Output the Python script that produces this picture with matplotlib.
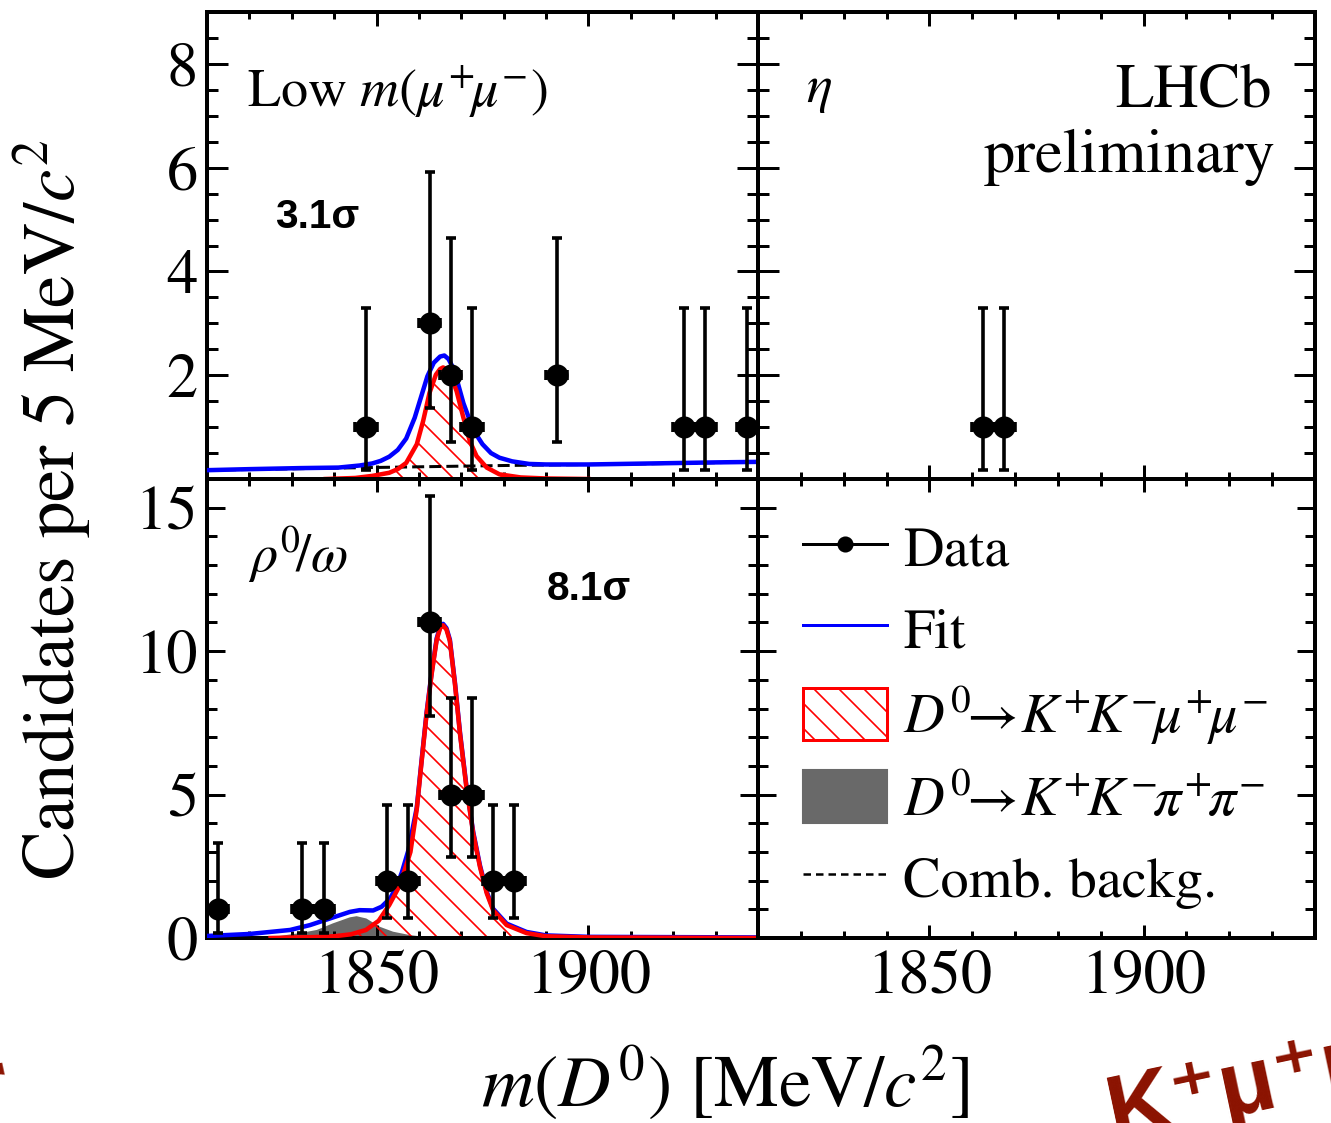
import numpy as np
import matplotlib
matplotlib.use("Agg")
from matplotlib import pyplot as plt
from matplotlib.lines import Line2D
from matplotlib.patches import Patch

plt.rcParams['font.family'] = ['STIXGeneral', 'DejaVu Serif']
plt.rcParams['mathtext.fontset'] = 'stix'
plt.rcParams['hatch.linewidth'] = 0.8

DPI = 150
px = 72.0 / DPI   # punkti na piksel
W, H = 1331.0, 1123.0

# --- podatki (odčitani s slike) ---
# zgoraj levo: low m(mu mu)
tl_x = [1847.5, 1862.5, 1867.5, 1872.5, 1892.5, 1922.5, 1927.5, 1937.5]
tl_y = [1, 3, 2, 1, 2, 1, 1, 1]
tl_lo = [0.17, 1.37, 0.71, 0.17, 0.71, 0.17, 0.17, 0.17]
tl_hi = [3.30, 5.92, 4.64, 3.30, 4.64, 3.30, 3.30, 3.30]

# zgoraj desno: eta
tr_x = [1862.5, 1867.5]
tr_y = [1, 1]
tr_lo = [0.17, 0.17]
tr_hi = [3.30, 3.30]

# spodaj levo: rho/omega
bl_x = [1812.5, 1832.5, 1837.5, 1852.5, 1857.5, 1862.5, 1867.5, 1872.5, 1877.5, 1882.5]
bl_y = [1, 1, 1, 2, 2, 11, 5, 5, 2, 2]
bl_lo = [0.17, 0.17, 0.17, 0.71, 0.71, 7.74, 2.84, 2.84, 0.71, 0.71]
bl_hi = [3.30, 3.30, 3.30, 4.64, 4.64, 15.40, 8.38, 8.38, 4.64, 4.64]

# fit krivulje zgoraj levo
tl_fit_m = [1810, 1820, 1832, 1841, 1846, 1849, 1851, 1853, 1855, 1857, 1859, 1860.5, 1862,
            1863.5, 1865, 1866, 1867, 1868, 1869, 1870.5, 1872, 1873.5, 1875, 1877, 1879,
            1882, 1886, 1890, 1900, 1915, 1930, 1940]
tl_fit_v = [0.17, 0.19, 0.21, 0.22, 0.26, 0.30, 0.35, 0.43, 0.56, 0.78, 1.18, 1.58, 1.98,
            2.24, 2.36, 2.38, 2.31, 2.15, 1.90, 1.46, 1.13, 0.86, 0.67, 0.50, 0.41,
            0.34, 0.29, 0.28, 0.28, 0.30, 0.32, 0.33]
tl_sig_m = [1838, 1845, 1849, 1853, 1855, 1857, 1859.5, 1861, 1862.5, 1864, 1865, 1865.7,
            1866.5, 1867.3, 1868.9, 1870.5, 1872, 1873.6, 1876, 1879, 1884, 1890, 1900]
tl_sig_v = [0.0, 0.02, 0.06, 0.12, 0.19, 0.31, 0.67, 1.12, 1.66, 2.01, 2.12, 2.15,
            2.12, 2.04, 1.69, 1.18, 0.73, 0.44, 0.22, 0.09, 0.03, 0.01, 0.0]
tl_comb_m = [1810, 1840, 1860, 1880, 1900, 1920, 1940]
tl_comb_v = [0.17, 0.21, 0.235, 0.26, 0.28, 0.30, 0.33]

# fit krivulje spodaj levo
bl_fit_m = [1810, 1820, 1829.6, 1834.3, 1839.8, 1843.7, 1846, 1849.2, 1851.2, 1853.2, 1854.7,
            1856, 1857.5, 1859.5, 1860.6, 1861.8, 1863, 1864.2, 1865, 1865.7, 1866.5, 1867.3,
            1868.5, 1869.7, 1871.2, 1872.8, 1874.4, 1876, 1877.5, 1880.7, 1885.4, 1890, 1900, 1940]
bl_fit_v = [0.07, 0.14, 0.28, 0.45, 0.72, 0.91, 0.97, 0.96, 1.09, 1.38, 1.78,
            2.30, 3.05, 4.55, 6.15, 7.85, 9.25, 10.45, 10.85, 10.95, 10.8, 10.4,
            8.9, 7.15, 5.3, 3.7, 2.53, 1.61, 1.02, 0.5, 0.21, 0.09, 0.04, 0.02]
bl_sig_m = [1825, 1835, 1840, 1844, 1847.5, 1850.5, 1853, 1855, 1856.5, 1858, 1859.5, 1860.6,
            1861.8, 1863, 1864.2, 1865, 1865.7, 1866.5, 1867.3, 1868.5, 1869.7, 1871.2,
            1872.8, 1874.4, 1876, 1877.5, 1880.7, 1885.4, 1890, 1900, 1940]
bl_sig_v = [0.0, 0.03, 0.06, 0.13, 0.28, 0.6, 1.15, 1.7, 2.3, 3.0, 4.5, 6.1,
            7.8, 9.2, 10.4, 10.8, 10.9, 10.75, 10.35, 8.85, 7.1, 5.25,
            3.65, 2.48, 1.56, 0.97, 0.45, 0.17, 0.06, 0.02, 0.0]
bl_kkpp_m = [1822, 1825.6, 1831.9, 1835.9, 1839.7, 1843.7, 1845.3, 1847.6, 1850.8, 1853.9,
             1857.9, 1862, 1866]
bl_kkpp_v = [0.0, 0.04, 0.17, 0.28, 0.51, 0.72, 0.76, 0.68, 0.39, 0.22, 0.10, 0.03, 0.0]

leg_labels = ["Data", "Fit",
              r"$D^{0}\!\!\rightarrow\! K^{+}\!K^{-}\!\mu^{+}\!\mu^{-}$",
              r"$D^{0}\!\!\rightarrow\! K^{+}\!K^{-}\!\pi^{+}\!\pi^{-}$",
              "Comb. backg."]

# --- risanje ---
fig = plt.figure(figsize=(W / DPI, H / DPI), dpi=DPI)


def okvir(x0, x1, y0, y1):
    return [x0 / W, 1 - y1 / H, (x1 - x0) / W, (y1 - y0) / H]


ax_tl = fig.add_axes(okvir(207, 758, 12, 479))
ax_tr = fig.add_axes(okvir(758, 1315, 12, 479))
ax_bl = fig.add_axes(okvir(207, 758, 479, 938))
ax_br = fig.add_axes(okvir(758, 1315, 479, 938))

for ax in [ax_tl, ax_tr, ax_bl, ax_br]:
    ax.set_xlim(1810, 1940)
    for s in ax.spines.values():
        s.set_linewidth(4 * px)
    ax.set_xticks([1850, 1900])
    ax.set_xticks(np.arange(1820, 1941, 10), minor=True)
    ax.tick_params(which='both', direction='in', top=True, right=True, width=3 * px,
                   labelsize=30, pad=9 * px)

for ax in [ax_tl, ax_tr]:
    ax.set_ylim(0, 9)
    ax.set_yticks([2, 4, 6, 8])
    ax.set_yticks(np.arange(0, 9.01, 0.5), minor=True)
    ax.tick_params(axis='y', which='major', length=21 * px)
    ax.tick_params(axis='y', which='minor', length=11 * px)
    ax.tick_params(axis='x', which='major', length=14 * px)
    ax.tick_params(axis='x', which='minor', length=7 * px)
    ax.tick_params(axis='x', labelbottom=False)

for ax in [ax_bl, ax_br]:
    ax.set_ylim(0, 16)
    ax.set_yticks([0, 5, 10, 15])
    ax.set_yticks(np.arange(0, 16.01, 1), minor=True)
    ax.tick_params(axis='y', which='major', length=18 * px)
    ax.tick_params(axis='y', which='minor', length=10 * px)
    ax.tick_params(axis='x', which='major', length=13 * px)
    ax.tick_params(axis='x', which='minor', length=7 * px)
    ax.tick_params(axis='x', pad=12 * px)

for ax in [ax_tr, ax_br]:
    ax.tick_params(axis='y', labelleft=False)


def tocke(ax, x, y, lo, hi):
    y = np.array(y, dtype=float)
    yerr = [y - np.array(lo), np.array(hi) - y]
    ax.errorbar(x, y, xerr=2.5, yerr=yerr, fmt='o', color='k', ms=20 * px,
                elinewidth=3.6 * px, capsize=5.5 * px, capthick=3.6 * px, zorder=10)


# zgoraj levo
ax_tl.fill_between(tl_sig_m, 0, tl_sig_v, facecolor='none', edgecolor='red',
                   hatch='\\\\', linewidth=0, zorder=2)
ax_tl.plot(tl_comb_m, tl_comb_v, color='k', lw=3 * px, dashes=(4, 1.7), zorder=3)
ax_tl.plot(tl_fit_m, tl_fit_v, color='blue', lw=4.5 * px, zorder=4)
ax_tl.plot(tl_sig_m, tl_sig_v, color='red', lw=4.5 * px, zorder=5)
tocke(ax_tl, tl_x, tl_y, tl_lo, tl_hi)

# zgoraj desno
tocke(ax_tr, tr_x, tr_y, tr_lo, tr_hi)

# spodaj levo
ax_bl.fill_between(bl_kkpp_m, 0, bl_kkpp_v, facecolor='#696969', edgecolor='none', zorder=1)
ax_bl.fill_between(bl_sig_m, 0, bl_sig_v, facecolor='none', edgecolor='red',
                   hatch='\\\\', linewidth=0, zorder=2)
ax_bl.plot(bl_fit_m, bl_fit_v, color='blue', lw=4.5 * px, zorder=4)
ax_bl.plot(bl_sig_m, bl_sig_v, color='red', lw=4.5 * px, zorder=5)
tocke(ax_bl, bl_x, bl_y, bl_lo, bl_hi)

# legenda
handles = [Line2D([], [], color='k', marker='o', ms=14 * px, lw=3 * px),
           Line2D([], [], color='blue', lw=3 * px),
           Patch(facecolor='white', edgecolor='red', hatch='\\\\', lw=3 * px),
           Patch(facecolor='#696969', edgecolor='#696969'),
           Line2D([], [], color='k', lw=2.5 * px, dashes=(3, 2))]
ax_br.legend(handles, leg_labels, loc='upper left', bbox_to_anchor=(0.081, 0.907),
             frameon=False, fontsize=27, borderpad=0, borderaxespad=0,
             handlelength=1.5, handleheight=1.05, handletextpad=0.28, labelspacing=0.42)

# napisi
ax_tl.text(0.0726, 0.797, r"Low $m(\mu^{+}\!\mu^{-})$", transform=ax_tl.transAxes,
           fontsize=26, va='baseline')
ax_tl.text(0.123, 0.5375, "3.1σ", transform=ax_tl.transAxes, fontsize=19.5,
           family='Liberation Sans', weight='bold', va='baseline')
ax_tr.text(0.086, 0.807, r"$\eta$", transform=ax_tr.transAxes, fontsize=26, va='baseline')
ax_tr.text(0.923, 0.797, "LHCb", transform=ax_tr.transAxes, fontsize=30,
           ha='right', va='baseline')
ax_tr.text(0.93, 0.657, "preliminary", transform=ax_tr.transAxes, fontsize=30,
           ha='right', va='baseline')
ax_bl.text(0.0744, 0.797, r"$\rho^{0}\!/\omega$", transform=ax_bl.transAxes,
           fontsize=26, va='baseline')
ax_bl.text(0.617, 0.736, "8.1σ", transform=ax_bl.transAxes, fontsize=19.5,
           family='Liberation Sans', weight='bold', va='baseline')

fig.text(52 / W, 1 - 510 / H, r"Candidates per 5 MeV/$c^{2}$", rotation=90,
         ha='center', va='center', fontsize=35)
fig.text(725 / W, 1 - 1083 / H, r"$m(D^{0})$ [MeV/$c^{2}$]", ha='center', va='center',
         fontsize=35)

# ostanki ozadja prosojnice
fig.text(1100 / W, 1 - 1140 / H, "K⁺μ⁺μ⁻", rotation=12, color='#8b1200',
         family=['Liberation Sans', 'DejaVu Sans'], weight='bold', fontsize=44,
         ha='left', va='baseline')
fig.text(14 / W, 1 - 1110 / H, "r", rotation=12, color='#8b1200',
         family='DejaVu Sans', weight='bold', fontsize=36, ha='right', va='baseline')

fig.savefig("out.png", dpi=DPI)
